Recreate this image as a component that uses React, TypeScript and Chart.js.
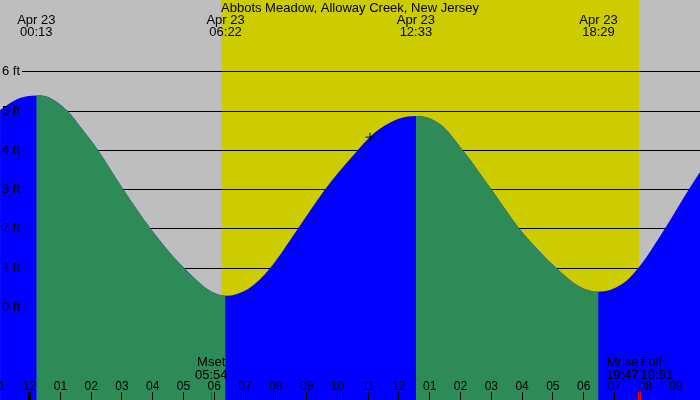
import { useEffect, useRef } from 'react';
import { Chart, registerables } from 'chart.js';

Chart.register(...registerables);

// ---- data ----
const chartTitle = 'Abbots Meadow, Alloway Creek, New Jersey';
const dateLabel = 'Apr 23';

// tide curve (hours after midnight Apr 23, feet)
const tideHours = [-0.96, -0.47, -0.09, 0.217, 0.67, 1.24, 1.75, 2.23, 3.05, 3.94, 4.72, 5.03, 5.81, 6.367, 7.11, 7.81, 8.71, 9.59, 10.41, 11.05, 11.49, 12.04, 12.55, 13.34, 14.08, 15.01, 15.92, 16.53, 17.12, 17.83, 18.483, 19.24, 19.77, 20.63, 21.41, 21.78];
const tideFeet = [5.03, 5.28, 5.38, 5.40, 5.34, 5.00, 4.50, 4.00, 3.00, 2.00, 1.25, 1.00, 0.45, 0.30, 0.48, 1.00, 2.00, 3.00, 3.78, 4.34, 4.61, 4.82, 4.88, 4.67, 4.00, 3.00, 2.00, 1.46, 1.00, 0.55, 0.40, 0.59, 1.00, 2.00, 3.00, 3.45];

// high / low events shown at top
const eventTimes = ['00:13', '06:22', '12:33', '18:29'];
const eventHours = [0.217, 6.367, 12.55, 18.483];

// sun
const sunriseHour = 6.21;
const sunsetHour = 19.8;

// moon events shown at bottom
const moonLabels = ['Mset', 'Mrise', 'Full'];
const moonTimes = ['05:54', '19:47', '19:51'];
const moonHours = [5.9, 19.783, 19.85];
const moonAligns: CanvasTextAlign[] = ['center', 'right', 'left'];

// hour ticks
const hourTickLabels = ['11', '12', '01', '02', '03', '04', '05', '06', '07', '08', '09', '10', '11', '12', '01', '02', '03', '04', '05', '06', '07', '08', '09'];
const hourTickHours = [-1, 0, 1, 2, 3, 4, 5, 6, 7, 8, 9, 10, 11, 12, 13, 14, 15, 16, 17, 18, 19, 20, 21];

// height grid
const gridFeet = [0, 1, 2, 3, 4, 5, 6];

// current marker
const markerHours = [11.06];
const markerFeet = [4.34];

// ---- style ----
const GRAY = '#BEBEBE';
const YELLOW = '#CCCC00';
const GREEN = '#2E8B57';
const BLUE = '#0000FF';
const FONT = '13px "Liberation Sans", Arial, sans-serif';
const SMALL_FONT = '12px "Liberation Sans", Arial, sans-serif';

const decorPlugin = {
  id: 'tideDecor',
  beforeDraw(chart: any) {
    const { ctx, width, height } = chart;
    const x = chart.scales.x;
    const y = chart.scales.y;
    ctx.save();
    ctx.fillStyle = GRAY;
    ctx.fillRect(0, 0, width, height);
    const x1 = x.getPixelForValue(sunriseHour);
    const x2 = x.getPixelForValue(sunsetHour);
    ctx.fillStyle = YELLOW;
    ctx.fillRect(Math.round(x1), 0, Math.round(x2) - Math.round(x1), height);
    ctx.strokeStyle = '#000';
    ctx.lineWidth = 1;
    for (const ft of gridFeet) {
      const py = Math.floor(y.getPixelForValue(ft)) + 0.5;
      ctx.beginPath();
      ctx.moveTo(22, py);
      ctx.lineTo(width, py);
      ctx.stroke();
    }
    ctx.restore();
  },
  afterDatasetsDraw(chart: any) {
    const { ctx, width } = chart;
    const x = chart.scales.x;
    const y = chart.scales.y;
    ctx.save();
    ctx.fillStyle = '#000';
    // title
    ctx.font = FONT;
    ctx.textAlign = 'center';
    ctx.textBaseline = 'alphabetic';
    ctx.fillText(chartTitle, width / 2, 12);
    // tide events
    eventHours.forEach((h, i) => {
      const px = x.getPixelForValue(h);
      ctx.fillText(dateLabel, px, 23.5);
      ctx.fillText(eventTimes[i], px, 36);
    });
    // ft labels
    ctx.textAlign = 'left';
    ctx.textBaseline = 'middle';
    for (const ft of gridFeet) {
      const py = Math.floor(y.getPixelForValue(ft));
      ctx.fillText(ft + ' ft', 2, py);
    }
    // moon labels
    ctx.textBaseline = 'alphabetic';
    moonHours.forEach((h, i) => {
      const px = x.getPixelForValue(h);
      ctx.textAlign = moonAligns[i];
      ctx.fillText(moonLabels[i], px, 366);
      ctx.fillText(moonTimes[i], px, 378.5);
    });
    // hour ticks
    ctx.font = SMALL_FONT;
    ctx.textAlign = 'center';
    hourTickHours.forEach((h, i) => {
      const px = x.getPixelForValue(h);
      ctx.fillStyle = '#000';
      ctx.fillText(hourTickLabels[i], px, 389.5);
      if (h === 0) ctx.fillRect(Math.floor(px) - 1, 392, 3, 8);
      else ctx.fillRect(Math.floor(px), 392, 1, 8);
    });
    ctx.fillStyle = '#FF0000';
    moonHours.forEach((h) => {
      const px = x.getPixelForValue(h);
      ctx.fillRect(Math.floor(px), 392, 1, 8);
    });
    ctx.restore();
  },
};

export default function App() {
  const ref = useRef<HTMLCanvasElement>(null);
  useEffect(() => {
    document.body.style.margin = '0';
    const tidePoints = tideHours.map((h, i) => ({ x: h, y: tideFeet[i] }));
    const markerPoints = markerHours.map((h, i) => ({ x: h, y: markerFeet[i] }));
    const chart = new Chart(ref.current as HTMLCanvasElement, {
      type: 'line',
      data: {
        datasets: [
          {
            // whole tide area (rising colour underneath)
            data: tidePoints,
            fill: 'start',
            backgroundColor: BLUE,
            borderColor: 'transparent',
            borderWidth: 0,
            pointRadius: 0,
            cubicInterpolationMode: 'monotone',
            order: 3,
          } as any,
          {
            // falling parts on top
            data: tidePoints,
            fill: 'start',
            backgroundColor: GREEN,
            borderColor: 'transparent',
            borderWidth: 0,
            pointRadius: 0,
            cubicInterpolationMode: 'monotone',
            segment: {
              backgroundColor: (c: any) => (c.p1.parsed.y >= c.p0.parsed.y ? 'rgba(0,0,0,0)' : GREEN),
            },
            order: 2,
          } as any,
          {
            type: 'scatter',
            data: markerPoints,
            pointStyle: 'cross',
            pointRadius: 4.5,
            borderColor: '#000',
            backgroundColor: '#000',
            borderWidth: 1,
            showLine: false,
            order: 1,
          } as any,
        ],
      },
      options: {
        animation: false,
        responsive: false,
        events: [],
        layout: { padding: 0, autoPadding: false },
        plugins: { legend: { display: false }, tooltip: { enabled: false } },
        scales: {
          x: { type: 'linear', min: -0.9617, max: 21.78, display: false },
          y: { type: 'linear', min: -2.357, max: 7.834, display: false },
        },
      },
      plugins: [decorPlugin],
    });
    return () => chart.destroy();
  }, []);
  return (
    <div style={{ position: 'fixed', left: 0, top: 0, width: 700, height: 400 }}>
      <canvas ref={ref} width={700} height={400} style={{ display: 'block' }} />
    </div>
  );
}
